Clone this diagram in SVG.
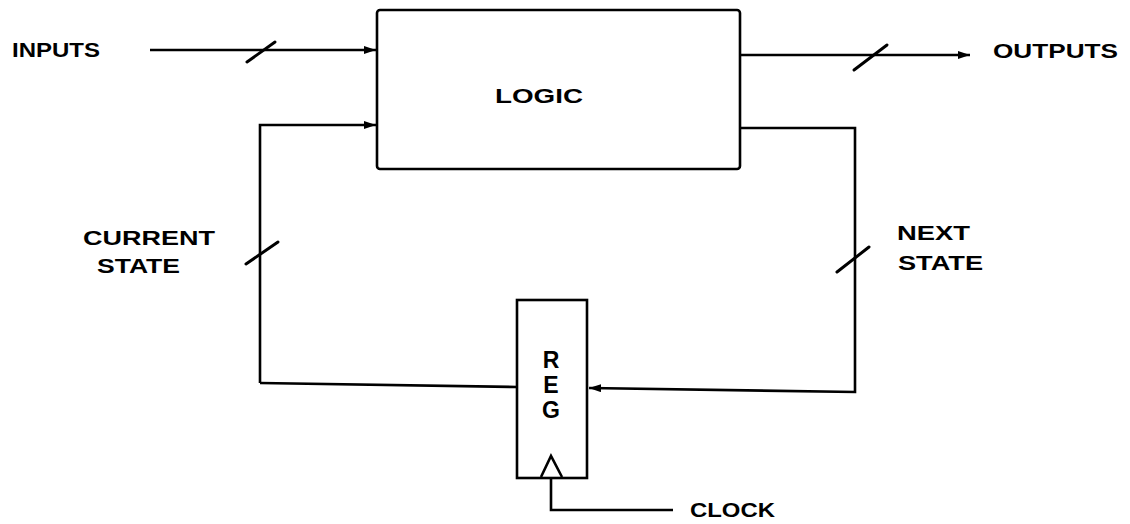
<svg xmlns="http://www.w3.org/2000/svg" width="1130" height="524" viewBox="0 0 1130 524">
<style>
.ln{fill:none;stroke:#000;stroke-width:2.6;stroke-linejoin:miter}
.box{fill:#fff;stroke:#000;stroke-width:2.6}
.sl{stroke:#000;stroke-width:3;stroke-linecap:round}
.t{font-family:"Liberation Sans",Arial,sans-serif;font-size:20px;font-weight:bold;fill:#000}
.r{font-size:23px}
</style>
<defs>
<marker id="ah" markerWidth="12" markerHeight="8" refX="12" refY="4" orient="auto" markerUnits="userSpaceOnUse">
<path d="M0,0 L12,4 L0,8 Z" fill="#000"/>
</marker>
</defs>
<rect width="1130" height="524" fill="#fff"/>
<g id="connectors">
<path class="ln" d="M150,50 L376,50" marker-end="url(#ah)"/>
<line class="sl" x1="247" y1="62" x2="275" y2="42"/>
<path class="ln" d="M260,383 L260,125 L376,125" marker-end="url(#ah)"/>
<line class="sl" x1="246" y1="264" x2="278" y2="242"/>
<path class="ln" d="M260,383 L517,387"/>
<path class="ln" d="M740,55 L970,55" marker-end="url(#ah)"/>
<line class="sl" x1="854" y1="70" x2="887" y2="45"/>
<path class="ln" d="M740,128 L855,128 L855,392 L589,388" marker-end="url(#ah)"/>
<line class="sl" x1="837" y1="272" x2="869" y2="247"/>
<path class="ln" d="M551,478 L551,510 L673,510"/>
</g>
<g id="logic">
<rect class="box" x="377" y="10" width="363" height="159" rx="3"/>
<text class="t" x="495" y="103" textLength="88" lengthAdjust="spacingAndGlyphs">LOGIC</text>
</g>
<g id="reg">
<rect class="box" x="517" y="300" width="70" height="178"/>
<path class="ln" d="M541,477 L551,456 L562,477"/>
<text class="t r" x="551" y="368" text-anchor="middle">R</text>
<text class="t r" x="551" y="393" text-anchor="middle">E</text>
<text class="t r" x="551" y="418" text-anchor="middle">G</text>
</g>
<g id="labels">
<text class="t" x="12" y="57" textLength="88" lengthAdjust="spacingAndGlyphs">INPUTS</text>
<text class="t" x="993" y="58" textLength="125" lengthAdjust="spacingAndGlyphs">OUTPUTS</text>
<text class="t" x="83" y="245" textLength="132" lengthAdjust="spacingAndGlyphs">CURRENT</text>
<text class="t" x="97" y="273" textLength="83" lengthAdjust="spacingAndGlyphs">STATE</text>
<text class="t" x="897" y="240" textLength="73" lengthAdjust="spacingAndGlyphs">NEXT</text>
<text class="t" x="898" y="270" textLength="85" lengthAdjust="spacingAndGlyphs">STATE</text>
<text class="t" x="690" y="517" textLength="85" lengthAdjust="spacingAndGlyphs">CLOCK</text>
</g>
</svg>
